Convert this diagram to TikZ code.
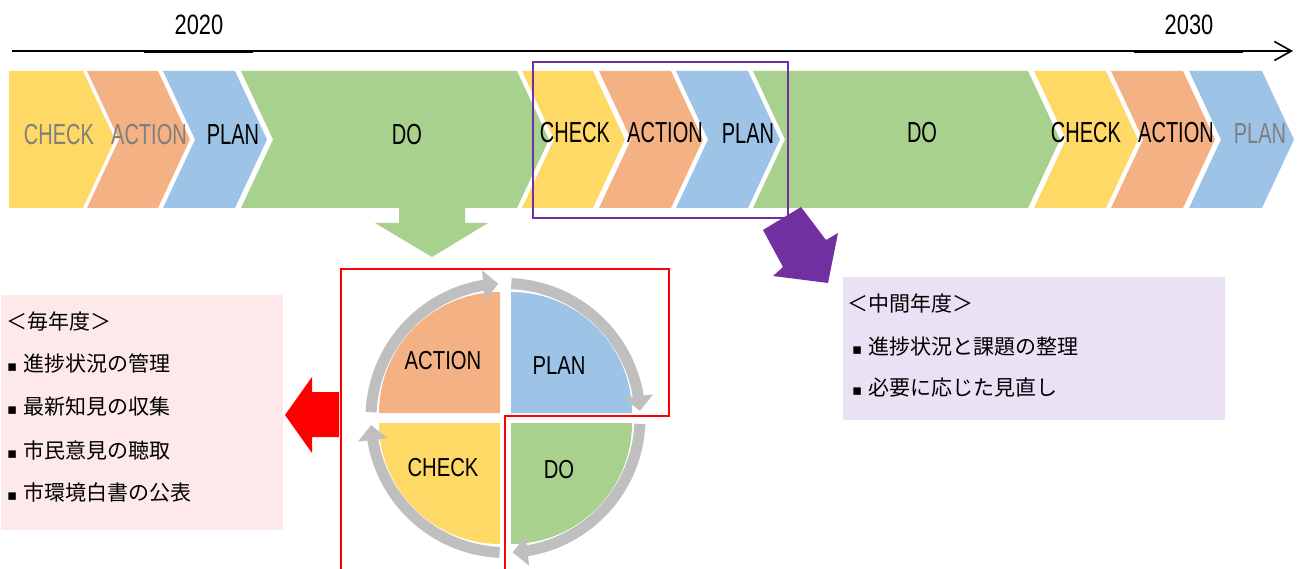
\documentclass[tikz,border=0pt]{standalone}
\usepackage{fontspec}
\setmainfont{Liberation Sans}
\newfontfamily\nar[FakeStretch=0.69]{Liberation Sans}
\newfontfamily\narb[FakeStretch=0.78]{Liberation Sans}
\newfontfamily\jp{Noto Sans CJK JP}
\newfontfamily\symf{DejaVu Sans}
\usetikzlibrary{arrows.meta,bending}
\definecolor{cyel}{HTML}{FFD966}
\definecolor{cora}{HTML}{F4B183}
\definecolor{cblu}{HTML}{9DC3E6}
\definecolor{cgrn}{HTML}{A9D18E}
\definecolor{cgry}{HTML}{BFBFBF}
\definecolor{cpur}{HTML}{7030A0}
\definecolor{cpink}{HTML}{FDE9EA}
\definecolor{clav}{HTML}{EBE1F4}
\definecolor{ctxtg}{HTML}{7F7F7F}
\newcommand\mychev[3]{\fill[#3] (#1,71) -- (#2,71) -- ({#2+32},139.5) -- (#2,208) -- (#1,208) -- ({#1+32},139.5) -- cycle;}
\newcommand\bul{{\symf\fontsize{15}{15}\selectfont ▪}\hspace{6pt}}
\tikzset{
  lab/.style={font=\nar\fontsize{29}{32}\selectfont, inner sep=0pt},
  clab/.style={font=\narb\fontsize{26}{30}\selectfont, inner sep=0pt},
  ylab/.style={font=\narb\fontsize{28}{30}\selectfont, inner sep=0pt},
  jtxt/.style={font=\jp\fontsize{21}{25}\selectfont, inner sep=0pt, anchor=west},
  ring/.style={draw=cgry, line width=11pt, -{Triangle[width=29pt,length=15pt]}},
}
\begin{document}
\begin{tikzpicture}[x=1pt,y=-1pt]
\useasboundingbox (0,0) rectangle (1298,569);
% axis
\draw[line width=1.6pt, -{Straight Barb[length=17pt,width=19pt,line width=1.6pt]}] (12,51) -- (1293,51);
\draw[line width=1.2pt] (144,52.2) -- (253,52.2);
\draw[line width=1.2pt] (1134,52.2) -- (1243,52.2);
\node[ylab] (y2020) at (199,25) {2020};
\node[ylab] (y2030) at (1189,25) {2030};
% chevron bar
\fill[cyel] (9,71) -- (83,71) -- (115,139.5) -- (83,208) -- (9,208) -- cycle;
\mychev{87}{158}{cora}
\mychev{163}{235}{cblu}
\mychev{241}{517}{cgrn}
\mychev{522}{593}{cyel}
\mychev{599}{671}{cora}
\mychev{676}{748}{cblu}
\mychev{753}{1028}{cgrn}
\mychev{1034}{1106}{cyel}
\mychev{1111}{1183}{cora}
\mychev{1189}{1262}{cblu}
\node[lab, text=ctxtg] (c1) at (59,135) {CHECK};
\node[lab, text=ctxtg] (a1) at (149,135) {ACTION};
\node[lab] (p1) at (233,135) {PLAN};
\node[lab] (d1) at (407,135) {DO};
\node[lab] (c2) at (575,133) {CHECK};
\node[lab] (a2) at (665,133) {ACTION};
\node[lab] (p2) at (748,134) {PLAN};
\node[lab] (d2) at (922,133) {DO};
\node[lab] (c3) at (1086,133) {CHECK};
\node[lab] (a3) at (1176,133) {ACTION};
\node[lab, text=ctxtg] (p3) at (1260,134) {PLAN};
% purple frame and arrow
\draw[cpur, line width=2pt] (533,62) rectangle (788,218);
\fill[cpur] (801,207) -- (826,240) -- (838,233) -- (828,283) -- (773,276) -- (783,267) -- (763,230) -- cycle;
% green down arrow
\fill[cgrn] (399,207) -- (465,207) -- (465,223) -- (488,223) -- (432,257) -- (375,223) -- (399,223) -- cycle;
% circle quadrants
\fill[cora] (500,413) -- (379,413) arc[start angle=180,end angle=270,radius=121] -- cycle;
\fill[cblu] (511,413) -- (511,292) arc[start angle=270,end angle=360,radius=121] -- cycle;
\fill[cgrn] (511,423) -- (632,423) arc[start angle=0,end angle=90,radius=121] -- cycle;
\fill[cyel] (500,423) -- (500,544) arc[start angle=90,end angle=180,radius=121] -- cycle;
\coordinate (cc) at (505.5,418);
\draw[ring] ([shift={(182.5:134.5)}]cc) arc[start angle=182.5,end angle=267,radius=134.5];
\draw[ring] ([shift={(272.5:134.5)}]cc) arc[start angle=272.5,end angle=357,radius=134.5];
\draw[ring] ([shift={(2.5:134.5)}]cc) arc[start angle=2.5,end angle=87,radius=134.5];
\draw[ring] ([shift={(92.5:134.5)}]cc) arc[start angle=92.5,end angle=177,radius=134.5];
\node[clab] (qa) at (443,361) {ACTION};
\node[clab] (qp) at (559,366) {PLAN};
\node[clab] (qc) at (443,468) {CHECK};
\node[clab] (qd) at (559,470) {DO};
% red outline and arrow
\draw[red, line width=2pt] (341,569) -- (341,269) -- (669,269) -- (669,416) -- (505,416) -- (505,569);
\fill[red] (285,415) -- (312,377) -- (312,392) -- (339,392) -- (339,437) -- (312,437) -- (312,453) -- cycle;
% pink box
\fill[cpink] (1,295) rectangle (283,530);
\node[jtxt] (l0) at (6,322) {＜毎年度＞};
\node[jtxt] (l1) at (7,363) {\bul 進捗状況の管理};
\node[jtxt] (l2) at (7,407) {\bul 最新知見の収集};
\node[jtxt] (l3) at (7,450) {\bul 市民意見の聴取};
\node[jtxt] (l4) at (7,493) {\bul 市環境白書の公表};
% lavender box
\fill[clav] (843,277) rectangle (1225,420);
\node[jtxt] (m0) at (847,303) {＜中間年度＞};
\node[jtxt] (m1) at (852,347) {\bul 進捗状況と課題の整理};
\node[jtxt] (m2) at (852,388) {\bul 必要に応じた見直し};
\end{tikzpicture}
\end{document}
